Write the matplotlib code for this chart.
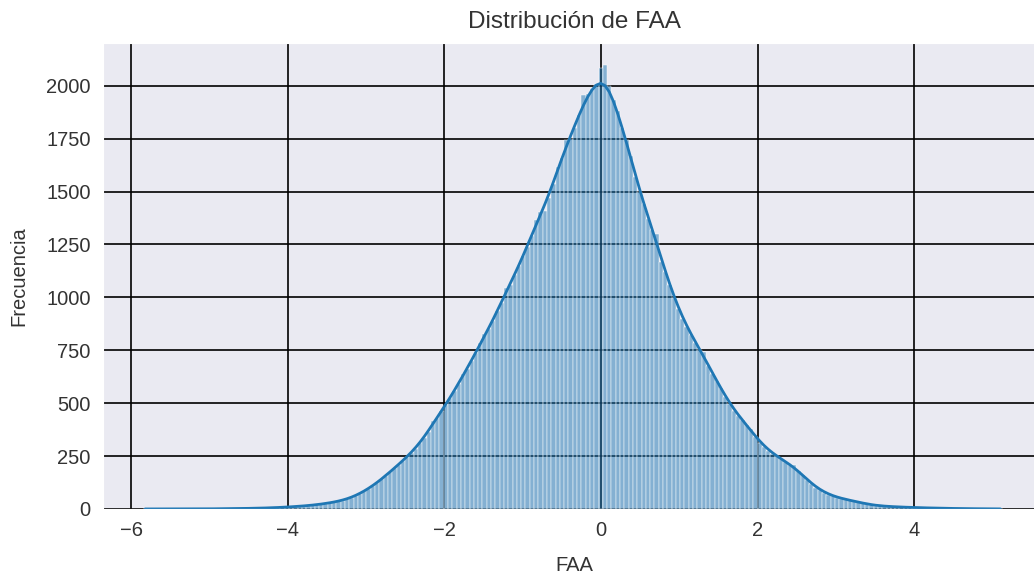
import numpy as np
import matplotlib
matplotlib.use("Agg")
import matplotlib.pyplot as plt
import seaborn as sns

# ---- data ----
bin_left = -5.85
bin_right = 5.13
counts = [
    # -5.85 .. -3.65
    1, 0, 0, 0, 1, 0, 0, 0, 1, 0,
    0, 1, 0, 1, 1, 0, 1, 1, 2, 1,
    2, 2, 3, 2, 3, 3, 4, 4, 5, 5,
    6, 7, 8, 9, 10, 12, 13, 14, 16, 18,
    # -3.65 .. -1.46
    20, 23, 25, 29, 32, 36, 40, 46, 52, 60,
    72, 84, 95, 108, 122, 140, 158, 176, 192, 210,
    228, 248, 266, 285, 310, 335, 365, 415, 432, 465,
    492, 525, 558, 592, 640, 662, 700, 738, 785, 825,
    # -1.46 .. 0.74
    850, 890, 935, 975, 1045, 1060, 1105, 1150, 1195, 1240,
    1290, 1365, 1405, 1410, 1470, 1538, 1615, 1660, 1742, 1750,
    1800, 1860, 1955, 1960, 1985, 2010, 2085, 2100, 2000, 1935,
    1880, 1800, 1745, 1670, 1570, 1500, 1440, 1370, 1320, 1300,
    # 0.74 .. 2.94
    1165, 1120, 1060, 995, 945, 900, 862, 822, 785, 752,
    740, 675, 640, 605, 570, 530, 495, 465, 440, 420,
    395, 377, 340, 312, 292, 275, 262, 250, 237, 222,
    210, 208, 180, 160, 138, 118, 100, 88, 77, 68,
    # 2.94 .. 5.13
    60, 54, 49, 45, 42, 37, 32, 27, 23, 19,
    16, 14, 13, 12, 11, 10, 9, 8, 8, 7,
    6, 6, 5, 5, 4, 4, 3, 3, 3, 2,
    2, 2, 1, 1, 2, 1, 1, 0, 1, 1,
]
x_ticks = [-6, -4, -2, 0, 2, 4]
y_ticks = [0, 250, 500, 750, 1000, 1250, 1500, 1750, 2000]
title = "Distribución de FAA"
x_label = "FAA"
y_label = "Frecuencia"

counts = np.asarray(counts, dtype=float)
n_bins = len(counts)
edges = np.linspace(bin_left, bin_right, n_bins + 1)
centers = 0.5 * (edges[:-1] + edges[1:])

# bandwidth as if computed from the raw sample (Scott's rule on N points)
N = counts.sum()
neff = N ** 2 / np.sum(counts ** 2)
bw_adj = (neff / N) ** 0.2

sns.set_style("darkgrid")
plt.rcParams["font.family"] = ["Liberation Sans", "DejaVu Sans"]

fig = plt.figure(figsize=(10.34, 5.77), dpi=100)
ax = fig.add_axes([103 / 1034, 68 / 577, 943 / 1034, 466 / 577])

sns.histplot(x=centers, weights=counts, bins=n_bins,
             binrange=(bin_left, bin_right), kde=True,
             kde_kws={"bw_adjust": bw_adj, "cut": 0},
             line_kws={"linewidth": 2.0}, ax=ax)

ax.grid(True, color="black", linewidth=1.2)
ax.set_xlim(-6.36, 5.685)
ax.set_ylim(0, 2202)
ax.set_xticks(x_ticks)
ax.set_yticks(y_ticks)
ax.tick_params(axis="both", length=0, labelsize=14.5, colors="#333333", pad=9)
ax.set_title(title, fontsize=17.5, color="#333333", pad=11)
ax.set_xlabel(x_label, fontsize=14.5, color="#333333", labelpad=11)
ax.set_ylabel(y_label, fontsize=14.5, color="#333333", labelpad=13)

fig.savefig("out.png", dpi=100)
